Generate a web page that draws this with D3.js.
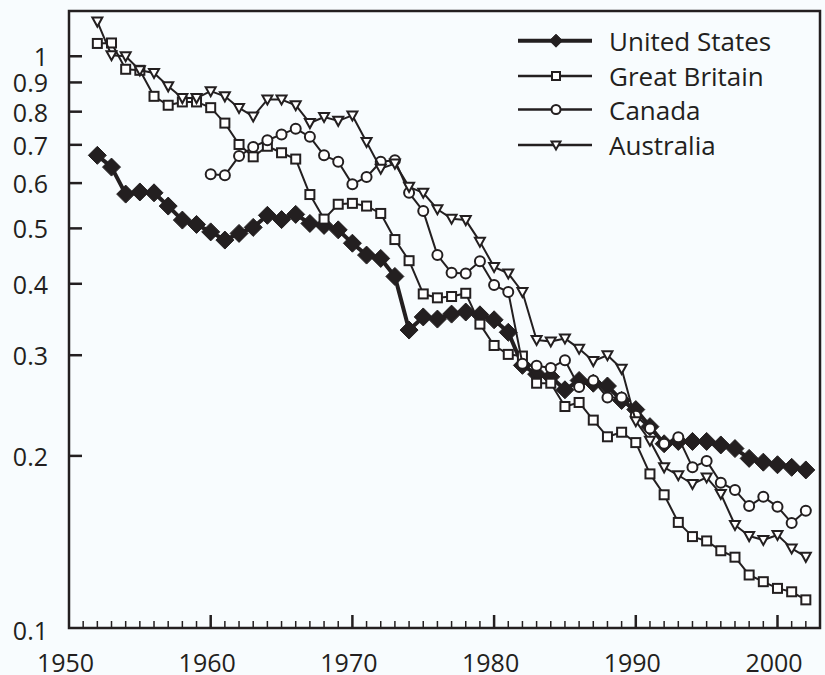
<!DOCTYPE html>
<html>
<head>
<meta charset="utf-8">
<script src="https://cdn.jsdelivr.net/npm/d3@7.9.0/dist/d3.min.js"></script>
<style>
  html, body { margin: 0; padding: 0; background: #f8fcfe; }
  svg { display: block; font-family: "Open Sans", "Noto Sans", sans-serif; }
</style>
</head>
<body>
<svg id="chart" width="825" height="675"></svg>
<script>
/* --- Data --- */
const years = [1952, 1953, 1954, 1955, 1956, 1957, 1958, 1959, 1960, 1961,
  1962, 1963, 1964, 1965, 1966, 1967, 1968, 1969, 1970, 1971,
  1972, 1973, 1974, 1975, 1976, 1977, 1978, 1979, 1980, 1981,
  1982, 1983, 1984, 1985, 1986, 1987, 1988, 1989, 1990, 1991,
  1992, 1993, 1994, 1995, 1996, 1997, 1998, 1999, 2000, 2001, 2002];

const canadaYears = years.filter(y => y >= 1960);

const usValues = [0.671, 0.64, 0.574, 0.579, 0.577, 0.547, 0.517, 0.508, 0.493, 0.477,
  0.49, 0.502, 0.527, 0.518, 0.529, 0.51, 0.506, 0.497, 0.471, 0.449,
  0.443, 0.412, 0.332, 0.35, 0.347, 0.354, 0.357, 0.353, 0.346, 0.329,
  0.288, 0.278, 0.275, 0.261, 0.271, 0.268, 0.265, 0.25, 0.241, 0.225,
  0.21, 0.212, 0.212, 0.212, 0.209, 0.206, 0.198, 0.195, 0.193, 0.191, 0.189];

const gbValues = [1.053, 1.055, 0.949, 0.945, 0.851, 0.821, 0.832, 0.832, 0.813, 0.764,
  0.701, 0.667, 0.696, 0.678, 0.661, 0.573, 0.519, 0.551, 0.553, 0.547,
  0.531, 0.478, 0.439, 0.384, 0.378, 0.38, 0.385, 0.34, 0.312, 0.301,
  0.299, 0.268, 0.268, 0.244, 0.248, 0.231, 0.216, 0.22, 0.211, 0.186,
  0.171, 0.153, 0.1445, 0.142, 0.1365, 0.133, 0.1238, 0.1205, 0.1173, 0.1157, 0.112];

const canadaValues = [0.622, 0.619, 0.669, 0.694, 0.713, 0.73, 0.747, 0.723, 0.671, 0.654,
  0.597, 0.615, 0.654, 0.658, 0.577, 0.536, 0.449, 0.418, 0.417, 0.438,
  0.398, 0.387, 0.29, 0.2875, 0.285, 0.294, 0.264, 0.271, 0.253, 0.253,
  0.235, 0.2234, 0.21, 0.2155, 0.191, 0.196, 0.1795, 0.1743, 0.1634, 0.1696,
  0.163, 0.1527, 0.1604];

const ausValues = [1.15, 1.004, 1.0, 0.945, 0.935, 0.886, 0.845, 0.845, 0.869, 0.851,
  0.812, 0.785, 0.84, 0.84, 0.821, 0.764, 0.783, 0.771, 0.788, 0.708,
  0.636, 0.649, 0.591, 0.577, 0.54, 0.52, 0.517, 0.474, 0.428, 0.417,
  0.387, 0.319, 0.317, 0.321, 0.308, 0.293, 0.3, 0.284, 0.23, 0.2126,
  0.191, 0.185, 0.1786, 0.1834, 0.1716, 0.1514, 0.1448, 0.1425, 0.1454, 0.1378, 0.1332];

const seriesNames = ['United States', 'Great Britain', 'Canada', 'Australia'];
const yTickValues = [0.1, 0.2, 0.3, 0.4, 0.5, 0.6, 0.7, 0.8, 0.9, 1];
const xLabelYears = [1950, 1960, 1970, 1980, 1990, 2000];

/* --- Layout --- */
const ink = '#231f20';
const plotLeft = 69, plotRight = 820, plotTop = 11, plotBottom = 628;

const svg = d3.select('#chart');

const x = d3.scaleLinear().domain([1950, 2003]).range([plotLeft, plotRight]);
const y = d3.scaleLog().domain([0.1, 1.2]).range([plotBottom, plotTop]);

/* --- Markers --- */
const markers = {
  diamond: (g, s) => g.append('path')
    .attr('d', `M0,${-s}L${s},0L0,${s}L${-s},0Z`)
    .attr('fill', ink).attr('stroke', ink).attr('stroke-width', 1),
  square: (g, s) => g.append('rect')
    .attr('x', -s).attr('y', -s).attr('width', 2 * s).attr('height', 2 * s)
    .attr('fill', '#fff').attr('stroke', ink).attr('stroke-width', 2),
  circle: (g, s) => g.append('circle')
    .attr('r', s)
    .attr('fill', '#fff').attr('stroke', ink).attr('stroke-width', 2),
  triangle: (g, s) => g.append('path')
    .attr('d', `M${-s},${-s * 0.8}L${s},${-s * 0.8}L0,${s}Z`)
    .attr('fill', '#fff').attr('stroke', ink).attr('stroke-width', 2)
};

const series = [
  { name: seriesNames[0], xs: years, ys: usValues, marker: 'diamond', size: 9, width: 4, legendSize: 6.5 },
  { name: seriesNames[1], xs: years, ys: gbValues, marker: 'square', size: 4.5, width: 2, legendSize: 4 },
  { name: seriesNames[2], xs: canadaYears, ys: canadaValues, marker: 'circle', size: 5, width: 2, legendSize: 4.5 },
  { name: seriesNames[3], xs: years, ys: ausValues, marker: 'triangle', size: 5, width: 2, legendSize: 4.5 }
];

/* --- Axes frame --- */
const frame = svg.append('g');

frame.append('rect')
  .attr('x', plotLeft).attr('y', plotTop)
  .attr('width', plotRight - plotLeft).attr('height', plotBottom - plotTop)
  .attr('fill', 'none').attr('stroke', ink).attr('stroke-width', 2.5);

// bottom ticks (inward), one per year
frame.selectAll('.xtick')
  .data(d3.range(1951, 2003))
  .enter().append('line')
  .attr('x1', d => x(d)).attr('x2', d => x(d))
  .attr('y1', plotBottom)
  .attr('y2', d => d % 10 === 0 ? plotBottom - 13 : plotBottom - 7)
  .attr('stroke', ink).attr('stroke-width', d => d % 10 === 0 ? 2.5 : 1.5);

frame.selectAll('.xlabel')
  .data(xLabelYears)
  .enter().append('text')
  .attr('x', d => x(d) - 3.5).attr('y', 672)
  .attr('text-anchor', 'middle')
  .attr('font-size', 25)
  .attr('fill', ink)
  .text(d => d);

// left ticks (inward)
frame.selectAll('.ytick')
  .data(yTickValues.filter(v => v > 0.1))
  .enter().append('line')
  .attr('x1', plotLeft).attr('x2', plotLeft + 13)
  .attr('y1', d => y(d)).attr('y2', d => y(d))
  .attr('stroke', ink).attr('stroke-width', 2.5);

frame.selectAll('.ylabel')
  .data(yTickValues)
  .enter().append('text')
  .attr('x', 48)
  .attr('y', d => d === 0.1 ? y(d) + 3 : y(d) + 1)
  .attr('dy', '0.36em')
  .attr('text-anchor', 'end')
  .attr('font-size', 25)
  .attr('fill', ink)
  .text(d => d);

/* --- Series lines + markers --- */
const line = d3.line().x(d => x(d[0])).y(d => y(d[1]));

series.forEach(s => {
  const pts = s.xs.map((yr, i) => [yr, s.ys[i]]);
  const g = svg.append('g');

  g.append('path')
    .datum(pts)
    .attr('d', line)
    .attr('fill', 'none')
    .attr('stroke', ink)
    .attr('stroke-width', s.width)
    .attr('stroke-linejoin', 'round');

  pts.forEach(p => {
    const m = g.append('g').attr('transform', `translate(${x(p[0])},${y(p[1])})`);
    markers[s.marker](m, s.size);
  });
});

/* --- Legend --- */
const legendRows = [40.7, 76, 109.5, 145];

series.forEach((s, i) => {
  const g = svg.append('g').attr('transform', `translate(0,${legendRows[i]})`);
  g.append('line')
    .attr('x1', 518).attr('x2', 592)
    .attr('y1', 0).attr('y2', 0)
    .attr('stroke', ink).attr('stroke-width', s.width === 4 ? 4 : 2.5);
  const m = g.append('g').attr('transform', 'translate(556,0)');
  markers[s.marker](m, s.legendSize);
  g.append('text')
    .attr('x', 609).attr('y', 1)
    .attr('dy', '0.36em')
    .attr('font-size', 26)
    .attr('fill', ink)
    .text(s.name);
});
</script>
</body>
</html>
